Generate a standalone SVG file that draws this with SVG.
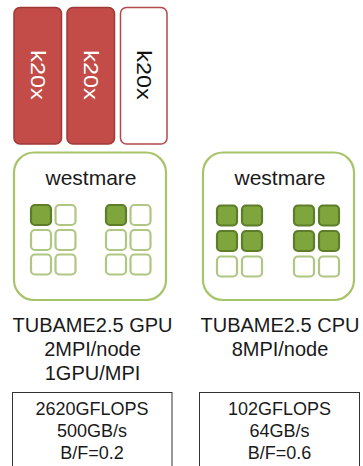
<svg xmlns="http://www.w3.org/2000/svg" width="363" height="466" viewBox="0 0 363 466">
<style>
.card{fill:#c34c49;stroke:#9e3936;stroke-width:1.5}
.card.off{fill:#ffffff;stroke:#b5484a}
.ktxt{font-family:"Liberation Sans",Arial,sans-serif;font-size:19.5px;fill:#ffffff}
.ktxt.dark{fill:#111111}
.node{fill:#ffffff;stroke:#a8c46a;stroke-width:2.2}
.wt{font-family:"Liberation Sans",Arial,sans-serif;font-size:21px;fill:#1a1a1a;text-anchor:middle}
.c{fill:#ffffff;stroke:#b0c683;stroke-width:2.2}
.c.on{fill:#7fa63c;stroke:#5e7d2b}
.lbl{font-family:"Liberation Sans",Arial,sans-serif;font-size:20px;fill:#1a1a1a;text-anchor:middle}
.perf{fill:#ffffff;stroke:#333333;stroke-width:1}
.pt{font-family:"Liberation Sans",Arial,sans-serif;font-size:18px;fill:#1a1a1a;text-anchor:middle}
</style>
<rect width="363" height="466" fill="#ffffff"/>
<g id="gpu1">
<rect class="card" x="14" y="7.5" width="47.5" height="136.5" rx="6"/>
<text class="ktxt" transform="translate(31,75) rotate(90) scale(1.2,1)" text-anchor="middle">k20x</text>
</g>
<g id="gpu2">
<rect class="card" x="67" y="7.5" width="47.5" height="136.5" rx="6"/>
<text class="ktxt" transform="translate(84,75) rotate(90) scale(1.2,1)" text-anchor="middle">k20x</text>
</g>
<g id="gpu3">
<rect class="card off" x="120.5" y="7.5" width="46.5" height="136.5" rx="6"/>
<text class="ktxt dark" transform="translate(137,75) rotate(90) scale(1.2,1)" text-anchor="middle">k20x</text>
</g>
<g id="node-gpu">
<rect class="node" x="14" y="152.5" width="152" height="147.5" rx="20"/>
<text class="wt" x="91" y="185">westmare</text>
<rect class="c on" x="31" y="205" width="20" height="20" rx="4"/>
<rect class="c" x="55.5" y="205" width="20" height="20" rx="4"/>
<rect class="c" x="31" y="230" width="20" height="20" rx="4"/>
<rect class="c" x="55.5" y="230" width="20" height="20" rx="4"/>
<rect class="c" x="31" y="254.5" width="20" height="20" rx="4"/>
<rect class="c" x="55.5" y="254.5" width="20" height="20" rx="4"/>
<rect class="c on" x="106" y="205" width="20" height="20" rx="4"/>
<rect class="c" x="130.5" y="205" width="20" height="20" rx="4"/>
<rect class="c" x="106" y="230" width="20" height="20" rx="4"/>
<rect class="c" x="130.5" y="230" width="20" height="20" rx="4"/>
<rect class="c" x="106" y="254.5" width="20" height="20" rx="4"/>
<rect class="c" x="130.5" y="254.5" width="20" height="20" rx="4"/>
</g>
<g id="node-cpu">
<rect class="node" x="203" y="152.5" width="151" height="147.5" rx="20"/>
<text class="wt" x="280" y="185">westmare</text>
<rect class="c on" x="217" y="205.5" width="20" height="20" rx="4"/>
<rect class="c on" x="242" y="205.5" width="20" height="20" rx="4"/>
<rect class="c on" x="217" y="231" width="20" height="20" rx="4"/>
<rect class="c on" x="242" y="231" width="20" height="20" rx="4"/>
<rect class="c" x="217" y="256.5" width="20" height="20" rx="4"/>
<rect class="c" x="242" y="256.5" width="20" height="20" rx="4"/>
<rect class="c on" x="294" y="205.5" width="20" height="20" rx="4"/>
<rect class="c on" x="319" y="205.5" width="20" height="20" rx="4"/>
<rect class="c on" x="294" y="231" width="20" height="20" rx="4"/>
<rect class="c on" x="319" y="231" width="20" height="20" rx="4"/>
<rect class="c" x="294" y="256.5" width="20" height="20" rx="4"/>
<rect class="c" x="319" y="256.5" width="20" height="20" rx="4"/>
</g>
<g id="label-gpu">
<text class="lbl" x="92.5" y="332">TUBAME2.5 GPU</text>
<text class="lbl" x="92.5" y="356">2MPI/node</text>
<text class="lbl" x="92.5" y="380">1GPU/MPI</text>
</g>
<g id="label-cpu">
<text class="lbl" x="280" y="332">TUBAME2.5 CPU</text>
<text class="lbl" x="280" y="356">8MPI/node</text>
</g>
<g id="perf-gpu">
<rect class="perf" x="12.5" y="392.5" width="159.5" height="80"/>
<text class="pt" x="92" y="415">2620GFLOPS</text>
<text class="pt" x="92" y="437">500GB/s</text>
<text class="pt" x="92" y="458.5">B/F=0.2</text>
</g>
<g id="perf-cpu">
<rect class="perf" x="199.5" y="392.5" width="160" height="80"/>
<text class="pt" x="279.5" y="415">102GFLOPS</text>
<text class="pt" x="279.5" y="437">64GB/s</text>
<text class="pt" x="279.5" y="458.5">B/F=0.6</text>
</g>
<g id="connectors"></g>
</svg>
